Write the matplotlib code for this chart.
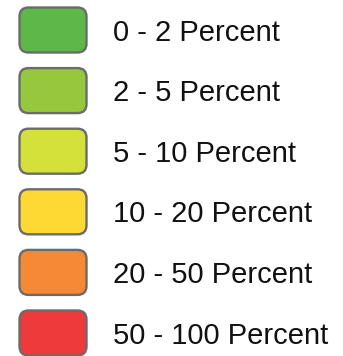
import matplotlib
matplotlib.use("Agg")
import matplotlib.pyplot as plt
from matplotlib.patches import FancyBboxPatch

labels = ["0 - 2 Percent", "2 - 5 Percent", "5 - 10 Percent",
          "10 - 20 Percent", "20 - 50 Percent", "50 - 100 Percent"]
colors = ["#5DB847", "#95C83D", "#D3E13A", "#FFD933", "#F68935", "#EE3A3B"]

W, H = 343, 356
fig = plt.figure(figsize=(W / 100, H / 100), dpi=100)
ax = fig.add_axes([0, 0, 1, 1])
ax.set_xlim(0, W)
ax.set_ylim(H, 0)
ax.axis("off")

top, step = 30, 60.6
for i, (lab, col) in enumerate(zip(labels, colors)):
    cy = top + i * step
    box = FancyBboxPatch((19.5, cy - 22.5), 67, 45,
                         boxstyle="round,pad=0,rounding_size=9",
                         facecolor=col, edgecolor="#6B6B6B", linewidth=1.7)
    ax.add_patch(box)
    ax.text(113, cy + 10.7, lab, fontsize=21, family="Liberation Sans",
            va="baseline", ha="left", color="#111111")

fig.savefig("out.png", dpi=100)
